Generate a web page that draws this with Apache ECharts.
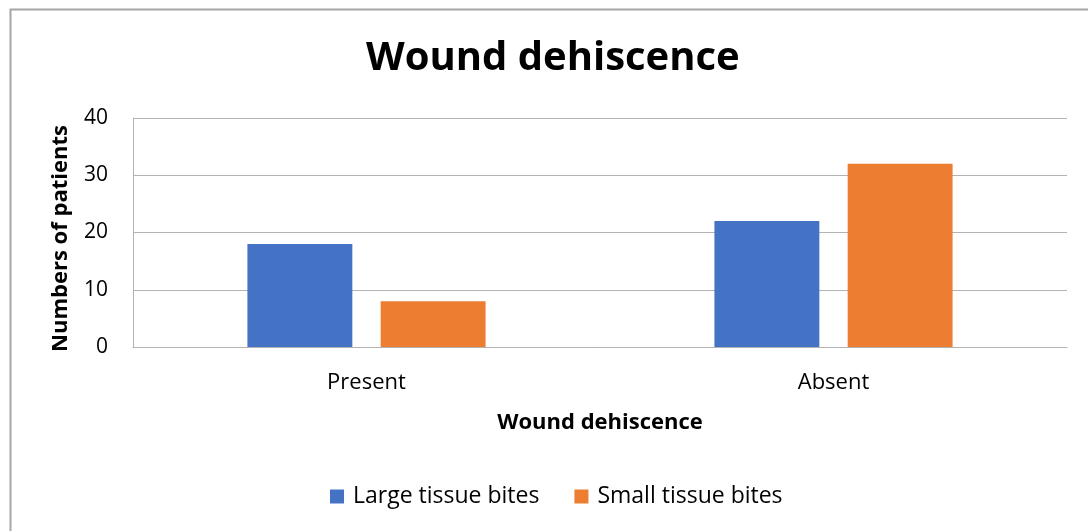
<!DOCTYPE html>
<html>
<head>
<meta charset="utf-8">
<script src="https://cdn.jsdelivr.net/npm/echarts@6/dist/echarts.min.js"></script>
<style>html,body{margin:0;padding:0;background:#fff;}#chart{width:1088px;height:531px;}</style>
</head>
<body>
<div id="chart"></div>
<script>
const categories = ['Present', 'Absent'];
const largeBites = [18, 22];
const smallBites = [8, 32];
const seriesNames = ['Large tissue bites', 'Small tissue bites'];
const titleText = 'Wound dehiscence';
const xAxisName = 'Wound dehiscence';
const yAxisName = 'Numbers of patients';
const captionText = 'Graph 1: Wound dehiscence in study population';

const chart = echarts.init(document.getElementById('chart'), null, {renderer: 'canvas'});
const font = '"Open Sans", "Noto Sans", sans-serif';
chart.setOption({
  backgroundColor: '#ffffff',
  animation: false,
  graphic: [
    {type: 'rect', left: 8, top: 7, shape: {width: 1100, height: 540}, style: {fill: 'none', stroke: '#a6a6a6', lineWidth: 2}, z: -1},
    {type: 'text', x: 552, y: 0.5, style: {text: captionText, font: 'bold 21px "Liberation Serif", serif', fill: '#000', textAlign: 'center', textVerticalAlign: 'bottom'}}
  ],
  title: {
    text: titleText, left: 361, top: 34,
    textStyle: {fontFamily: font, fontSize: 40, fontWeight: 'bold', color: '#000'}
  },
  color: ['#4472c4', '#ed7d31'],
  legend: {
    data: seriesNames, left: 325, top: 480, itemWidth: 14, itemHeight: 14, itemGap: 35,
    icon: 'rect',
    textStyle: {fontFamily: font, fontSize: 23, color: '#000', padding: [0, 0, 0, 4]}
  },
  grid: {left: 133, right: 21, top: 118, bottom: 184, containLabel: false},
  xAxis: {
    type: 'category', data: categories,
    name: xAxisName, nameLocation: 'middle', nameGap: 65,
    nameTextStyle: {fontFamily: font, fontSize: 22, fontWeight: 'bold', color: '#000'},
    axisLine: {show: true, lineStyle: {color: '#b3b3b3', width: 1}},
    axisTick: {show: false},
    axisLabel: {fontFamily: font, fontSize: 22, color: '#000', margin: 25}
  },
  yAxis: {
    type: 'value', min: 0, max: 40, interval: 10,
    name: yAxisName, nameLocation: 'middle', nameGap: 61,
    nameTextStyle: {fontFamily: font, fontSize: 22, fontWeight: 'bold', color: '#000', padding: [0, 12, 0, 0]},
    axisLine: {show: true, lineStyle: {color: '#b3b3b3', width: 1}},
    axisTick: {show: false},
    axisLabel: {fontFamily: font, fontSize: 21, color: '#000', margin: 25},
    splitLine: {show: true, lineStyle: {color: '#b3b3b3', width: 1}}
  },
  series: [
    {name: seriesNames[0], type: 'bar', data: largeBites, barGap: '27%', barCategoryGap: '49%'},
    {name: seriesNames[1], type: 'bar', data: smallBites, barGap: '27%', barCategoryGap: '49%'}
  ]
});
</script>
</body>
</html>
